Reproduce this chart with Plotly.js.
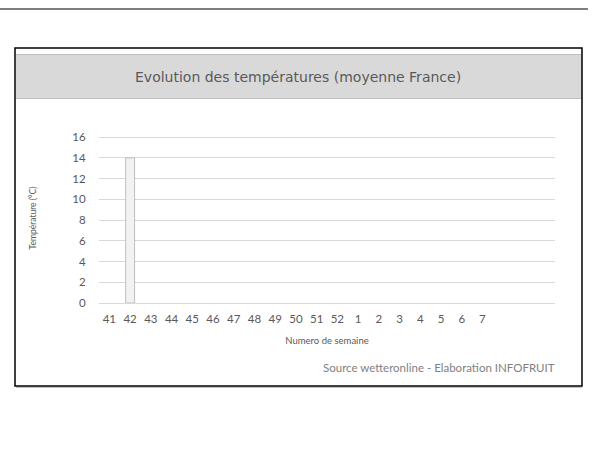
<!DOCTYPE html>
<html>
<head>
<meta charset="utf-8">
<script src="https://cdn.plot.ly/plotly-3.0.1.min.js"></script>
<style>html,body{margin:0;padding:0;background:#fff;}#chart{width:598px;height:466px;}</style>
</head>
<body>
<div id="chart"></div>
<script>
var weeks = ["41","42","43","44","45","46","47","48","49","50","51","52","1","2","3","4","5","6","7"," ","  ","   "];
var temperatures = [null,14,null,null,null,null,null,null,null,null,null,null,null,null,null,null,null,null,null,null,null,null];
var yTicks = [0,2,4,6,8,10,12,14,16];

// plot area in pixels: x 99..555, y 133..303
var L = 99, R = 555, T = 133, B = 303;
function px(x){ return (x - L) / (R - L); }
function py(y){ return (B - y) / (B - T); }

var trace = {
  type: 'bar',
  x: weeks,
  y: temperatures,
  width: 0.43,
  marker: {color: '#f2f2f2', line: {color: '#bfbfbf', width: 1}},
  hoverinfo: 'x+y'
};

var layout = {
  width: 598, height: 466,
  margin: {l: L, r: 598 - R, t: T, b: 466 - B, pad: 0},
  paper_bgcolor: '#ffffff', plot_bgcolor: '#ffffff',
  showlegend: false,
  font: {family: 'Lato, "Open Sans", sans-serif', color: '#595959', size: 11},
  xaxis: {
    type: 'category',
    categoryorder: 'array', categoryarray: weeks,
    showgrid: false, zeroline: false, showline: false,
    ticks: 'outside', ticklen: 5, tickcolor: 'rgba(0,0,0,0)',
    tickfont: {size: 11.5, color: '#595959'},
    title: {text: 'Numero de semaine', font: {size: 9.5, color: '#595959'}, standoff: 13},
    fixedrange: true
  },
  yaxis: {
    range: [0, 16.4],
    tickvals: yTicks,
    showgrid: true, gridcolor: '#d9d9d9', gridwidth: 1,
    zeroline: true, zerolinecolor: '#d9d9d9', zerolinewidth: 1,
    showline: false,
    ticks: 'outside', ticklen: 10, tickcolor: 'rgba(0,0,0,0)',
    tickfont: {size: 11.5, color: '#595959'},
    title: {text: 'Température (°C)', font: {size: 8.5, color: '#595959'}, standoff: 34},
    fixedrange: true
  },
  shapes: [
    {type: 'line', xref: 'paper', yref: 'paper', x0: px(0), x1: px(588), y0: py(9), y1: py(9), line: {color: '#000000', width: 1.2}},
    {type: 'rect', xref: 'paper', yref: 'paper', x0: px(16), x1: px(582), y0: py(54), y1: py(99), fillcolor: '#d9d9d9', line: {width: 0}, layer: 'below'},
    {type: 'line', xref: 'paper', yref: 'paper', x0: px(16), x1: px(582), y0: py(54.5), y1: py(54.5), line: {color: '#bfbfbf', width: 1}},
    {type: 'line', xref: 'paper', yref: 'paper', x0: px(16), x1: px(582), y0: py(98.5), y1: py(98.5), line: {color: '#bfbfbf', width: 1}},
    {type: 'rect', xref: 'paper', yref: 'paper', x0: px(15), x1: px(582), y0: py(48), y1: py(386), fillcolor: 'rgba(0,0,0,0)', line: {color: '#000000', width: 1.5}},
    {type: 'line', xref: 'paper', yref: 'paper', x0: px(16), x1: px(582), y0: py(387.5), y1: py(387.5), line: {color: '#bfbfbf', width: 1}}
  ],
  annotations: [
    {xref: 'paper', yref: 'paper', x: px(298), y: py(77), xanchor: 'center', yanchor: 'middle', showarrow: false,
     text: 'Evolution des températures (moyenne France)', font: {family: '"DejaVu Sans", sans-serif', size: 14, color: '#595959'}},
    {xref: 'paper', yref: 'paper', x: px(557), y: py(367), xanchor: 'right', yanchor: 'middle', showarrow: false,
     text: 'Source wetteronline - Elaboration INFOFRUIT', font: {size: 11.5, color: '#7f7f7f'}}
  ]
};

Plotly.newPlot('chart', [trace], layout, {displayModeBar: false, staticPlot: true});
</script>
</body>
</html>
